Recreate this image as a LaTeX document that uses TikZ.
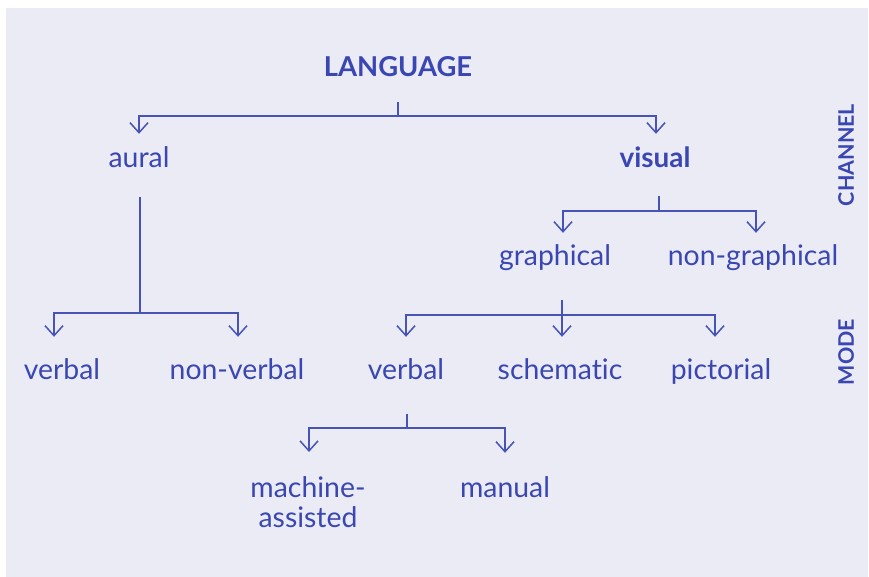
\documentclass[tikz,border=0pt]{standalone}
\usepackage{fontspec}
\setmainfont{Lato}[RawFeature=-liga]
\usetikzlibrary{arrows.meta}
\definecolor{bg}{HTML}{EBEBF5}
\definecolor{ink}{HTML}{3A47B2}
\definecolor{wirecol}{HTML}{4753B5}
\begin{document}
\begin{tikzpicture}[x=1bp,y=-1bp,
  lbl/.style={anchor=base, text=ink, inner sep=0pt, text height=20bp, text depth=6bp,
    font=\fontsize{28.5}{30}\selectfont},
  boldlbl/.style={lbl, font=\fontsize{28}{30}\selectfont\bfseries},
  side/.style={text=ink, inner sep=0pt, rotate=90, font=\fontsize{21.5}{24}\selectfont\bfseries},
  wire/.style={draw=wirecol, line width=1.5bp},
  arr/.style={wire, -{Straight Barb[length=10bp,width=18bp]}}]
\useasboundingbox (0,0) rectangle (869,577);
\fill[bg] (6,8) rectangle (868,577);

% labels
\node[boldlbl, font=\fontsize{27.5}{30}\selectfont\bfseries] (lang) at (398,77) {LANGUAGE};
\node[lbl] (aural) at (139,168) {aural};
\node[boldlbl] (visual) at (655,168) {visual};
\node[lbl] (graph) at (555,265) {graphical};
\node[lbl] (nongraph) at (753,265) {non-graphical};
\node[lbl] (averb) at (62,379) {verbal};
\node[lbl] (anonverb) at (237,379) {non-verbal};
\node[lbl] (gverb) at (406,379) {verbal};
\node[lbl] (schem) at (560,379) {schematic};
\node[lbl] (pict) at (721,379) {pictorial};
\node[anchor=base, text=ink, inner sep=0pt, align=center,
  font=\fontsize{28.5}{30}\selectfont] (machine) at (308,527) {machine-\\assisted};
\node[lbl] (manual) at (505,497) {manual};
\node[side] (chan) at (846,155) {CHANNEL};
\node[side] (mode) at (846,352) {MODE};

% language -> channels
\draw[wire] ([shift={(0,19)}]lang.south) -- ++(0,14) coordinate (lang-j);
\draw[arr] (lang-j) -| ([shift={(0,-14)}]aural.north);
\draw[arr] (lang-j) -| ([shift={(1,-14)}]visual.north);

% aural -> modes
\draw[wire] ([shift={(1,23)}]aural.south) -- ++(0,116) coordinate (aural-j);
\draw[arr] (aural-j) -| ([shift={(-8,-22)}]averb.north);
\draw[arr] (aural-j) -| ([shift={(1,-22)}]anonverb.north);

% visual -> graphical / non-graphical
\draw[wire] ([shift={(4,22)}]visual.south) -- ++(0,15) coordinate (vis-j);
\draw[arr] (vis-j) -| ([shift={(8,-12)}]graph.north);
\draw[arr] (vis-j) -| ([shift={(3,-12)}]nongraph.north);

% graphical -> modes
\draw[wire] ([shift={(7,29)}]graph.south) -- ++(0,15) coordinate (gr-j);
\draw[arr] (gr-j) -| ([shift={(0,-22)}]gverb.north);
\draw[arr] (gr-j) -| ([shift={(2,-22)}]schem.north);
\draw[arr] (gr-j) -| ([shift={(-6,-22)}]pict.north);

% verbal -> machine-assisted / manual
\draw[wire] ([shift={(1,29)}]gverb.south) -- ++(0,14) coordinate (vb-j);
\draw[arr] (vb-j) -| ([shift={(1,-24)}]machine.north);
\draw[arr] (vb-j) -| ([shift={(0,-24)}]manual.north);
\end{tikzpicture}
\end{document}
